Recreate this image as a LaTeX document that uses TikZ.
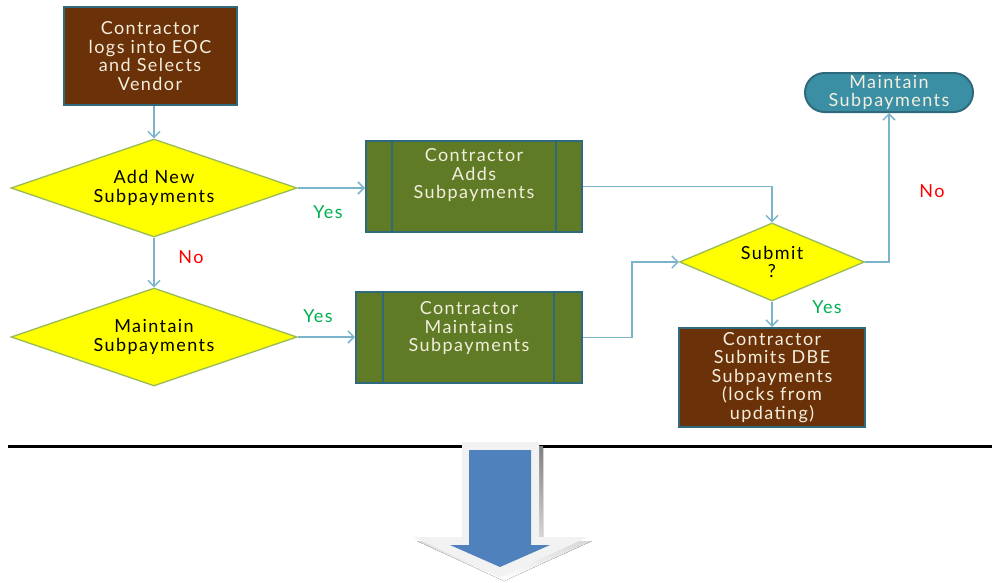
\documentclass[tikz,border=0pt]{standalone}
\usepackage{fontspec}
\setmainfont[LetterSpace=8]{Lato}
\usetikzlibrary{arrows.meta,shapes.geometric,shapes.misc}
\definecolor{bark}{HTML}{6B3108}
\definecolor{olive}{HTML}{5F7B26}
\definecolor{rim}{HTML}{2E6A7C}
\definecolor{lemon}{HTML}{FFFF00}
\definecolor{leaf}{HTML}{9BBB59}
\definecolor{wire}{HTML}{7BB3CB}
\definecolor{lagoon}{HTML}{3A8FA5}
\definecolor{cream}{HTML}{F3EEDD}
\definecolor{yesgreen}{HTML}{00B050}
\definecolor{nored}{HTML}{FF0000}
\definecolor{shaft}{HTML}{4F81BD}
\definecolor{halo}{HTML}{F2F2F2}
\definecolor{shade}{HTML}{95A3B5}
\newlength\unitpx
\setlength\unitpx{0.75pt}

\begin{document}
\begin{tikzpicture}[x=0.75pt,y=-0.75pt,
    font=\fontsize{13.5}{13.9}\selectfont,
    >={Straight Barb[length=4.5pt,width=9pt]},
    brownbox/.style={rectangle,fill=bark,draw=rim,line width=1.5pt,
      text=cream,align=center,inner sep=0pt},
    procbox/.style={rectangle,fill=olive,draw=rim,line width=1.5pt,inner sep=0pt,
      minimum height=91\unitpx},
    boxtext/.style={text=cream,align=center,inner sep=0pt},
    choice/.style={diamond,fill=lemon,draw=leaf,line width=1pt,align=center,
      inner sep=0pt},
    flow/.style={draw=wire,line width=1.1pt,->},
    yes/.style={text=yesgreen},
    no/.style={text=nored}]
  \useasboundingbox (0,0) rectangle (992,582);

  % left column
  \node[brownbox,minimum width=173\unitpx,minimum height=98\unitpx] (login)
    at (150,56) {Contractor\\logs into EOC\\and Selects\\Vendor};
  \node[choice,aspect=2.9,minimum width=286\unitpx,minimum height=98\unitpx]
    (addq) at (154,188) {Add New\\Subpayments};
  \node[choice,aspect=2.9,minimum width=286\unitpx,minimum height=98\unitpx]
    (maintq) at (154,337) {Maintain\\Subpayments};

  % middle column
  \node[procbox,minimum width=216\unitpx] (adds) at (474,186.5) {};
  \draw[rim,line width=1.5pt] ([xshift=27\unitpx]adds.north west)
    -- ([xshift=27\unitpx]adds.south west);
  \draw[rim,line width=1.5pt] ([xshift=-27\unitpx]adds.north east)
    -- ([xshift=-27\unitpx]adds.south east);
  \node[boxtext] (addstext) at ([yshift=8.6pt]adds.center)
    {Contractor\\Adds\\Subpayments};

  \node[procbox,minimum width=226\unitpx] (maints) at (469,337.5) {};
  \draw[rim,line width=1.5pt] ([xshift=28\unitpx]maints.north west)
    -- ([xshift=28\unitpx]maints.south west);
  \draw[rim,line width=1.5pt] ([xshift=-29\unitpx]maints.north east)
    -- ([xshift=-29\unitpx]maints.south east);
  \node[boxtext] (maintstext) at ([yshift=7.1pt]maints.center)
    {Contractor\\Maintains\\Subpayments};

  % right column
  \node[choice,aspect=2.4,minimum width=185\unitpx,minimum height=78\unitpx]
    (submitq) at (772,262) {Submit\\?};
  \node[brownbox,minimum width=186\unitpx,minimum height=99\unitpx] (submits)
    at (772,377.5) {Contractor\\Submits DBE\\Subpayments\\(locks from\\updating)};
  \node[rounded rectangle,fill=lagoon,draw=rim,line width=1.5pt,text=cream,
    align=center,inner sep=0pt,minimum width=168\unitpx,minimum height=39\unitpx]
    (again) at (889,92.5) {Maintain\\Subpayments};

  % connectors
  \draw[flow] (addq.north |- login.south) -- (addq.north);
  \draw[flow] (addq.south) -- (maintq.north);
  \draw[flow] (addq.east) -- (addq.east -| adds.west);
  \draw[flow] (maintq.east) -- (maintq.east -| maints.west);
  \draw[flow] (adds.east) -| (submitq.north);
  \draw[flow] (maints.east) -- ++(49,0) |- (submitq.west);
  \draw[flow] (submitq.east) -| (again.south);
  \draw[flow] (submitq.south) -- (submits.north);

  \node[no] (no1) at (191,257) {No};
  \node[yes] (yes1) at (328,212) {Yes};
  \node[yes] (yes2) at (318,316) {Yes};
  \node[no] (no2) at (932,191) {No};
  \node[yes] (yes3) at (827,307) {Yes};

  % divider and big arrow
  \draw[black,line width=2.25pt] (8,446) -- (992,446);
  \fill[shade] (466,446) -- (543,446) -- (543,541) -- (592,541) -- (504,581)
    -- (417,541) -- (466,541) -- cycle;
  \fill[halo] (462,442) -- (539,442) -- (539,537) -- (588,537) -- (500,577)
    -- (413,537) -- (462,537) -- cycle;
  \fill[shaft] (469,450) -- (531,450) -- (531,545) -- (550,545) -- (500,567)
    -- (450,545) -- (469,545) -- cycle;
\end{tikzpicture}
\end{document}
